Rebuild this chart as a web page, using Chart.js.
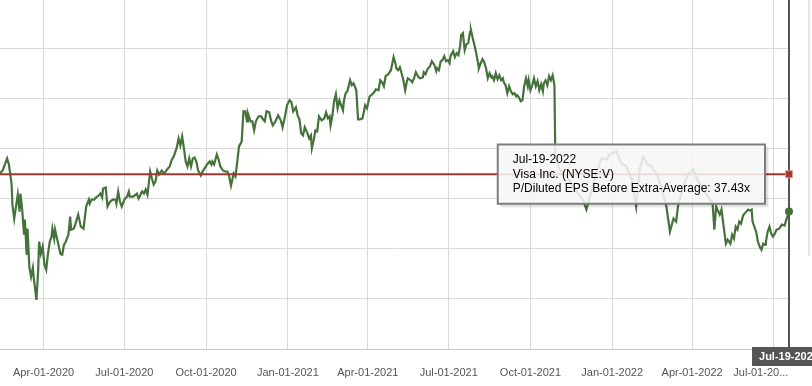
<!DOCTYPE html>
<html>
<head>
<meta charset="utf-8">
<script src="https://cdn.jsdelivr.net/npm/chart.js@4.4.0/dist/chart.umd.min.js"></script>
<style>
  html, body { margin: 0; padding: 0; background: #fff; }
  #peChart { display: block; }
</style>
</head>
<body>
<canvas id="peChart" width="812" height="386"></canvas>
<script>
// day number counted from 2020-01-01, one entry per sampled trading day
const tradeDays = [
  42,45,50,52,55,56,58,60,62,64, 65,67,69,70,72,73,75,77,79,80,
  83,85,86,88,90,92,94,96,98,100, 101,103,104,107,109,110,112,114,116,119,
  121,122,125,127,130,133,136,139,142,143, 145,148,150,153,155,157,158,161,163,166,
  169,172,173,175,177,179,182,185,187,188, 192,196,198,202,204,206,208,211,213,215,
  217,219,221,224,227,230,233,235,238,241, 243,245,247,249,251,253,255,257,259,261,
  263,265,268,270,273,275,278,280,281,283, 286,288,290,293,295,298,300,302,305,307,
  308,311,314,316,318,320,321,324,326,328, 330,333,336,338,340,342,345,347,349,352,
  355,358,360,363,365,368,370,372,375,377, 379,381,383,385,388,390,392,393,395,397,
  399,401,404,407,409,411,413,414,416,418, 420,422,424,426,428,429,431,433,436,438,
  440,443,445,447,450,453,455,458,461,463, 465,468,470,472,474,476,479,482,485,487,
  488,490,492,494,496,498,500,501,504,506, 508,510,513,515,518,519,521,523,526,528,
  531,533,534,536,538,540,542,544,546,548, 549,552,554,556,558,560,561,563,565,567,
  569,571,572,574,576,578,580,581,583,585, 587,589,591,593,595,596,598,600,602,604,
  606,608,609,611,613,615,617,619,621,623, 624,626,628,630,632,634,636,637,639,641,
  643,645,647,649,651,653,654,656,658,660, 662,664,666,667,672,680,687,693,698,702,
  706,713,719,725,728,736,741,747,753,758, 762,766,770,775,781,786,792,796,800,803,
  805,811,816,822,828,833,839,844,846,848, 852,854,856,859,861,864,866,868,870,872,
  874,876,878,879,882,884,886,888,889,891, 893,895,897,899,901,903,904,906,908,910,
  912,914,916,919,922,925,927,930
];

const peRatio = [
  37.5,37.8,39.0,38.4,36.5,34.4,33.0,34.2,35.4,33.7, 35.5,33.9,31.4,32.9,29.4,32.0,28.2,27.2,28.1,27.1,
  24.9,27.9,30.7,29.5,30.2,28.4,27.9,29.5,30.7,31.2, 32.0,31.0,31.9,30.7,29.9,29.5,29.4,30.4,30.7,31.4,
  33.2,31.9,32.0,32.5,33.4,32.2,32.0,34.2,34.9,34.5, 34.9,34.9,35.1,35.3,35.5,35.1,36.0,36.1,34.2,34.7,
  34.9,34.9,34.5,35.7,34.7,34.2,34.9,35.2,35.7,35.2, 35.2,35.5,35.0,35.7,35.5,35.9,35.4,37.7,37.0,36.4,
  36.7,37.8,37.4,37.8,37.5,37.9,38.2,38.8,39.3,40.1, 41.0,40.3,41.2,40.0,38.7,38.2,39.0,38.2,39.0,39.1,
  38.7,37.8,37.3,37.7,38.1,38.4,38.7,38.4,38.7,38.4, 39.4,38.9,38.2,37.8,37.7,37.7,37.2,36.3,37.5,37.2,
  37.9,40.2,40.7,43.7,43.7,42.7,43.5,42.7,42.7,41.8, 42.7,43.2,43.2,42.9,42.7,43.7,43.6,42.8,42.3,42.7,
  43.3,42.8,42.1,43.3,44.3,44.8,44.6,43.7,44.1,43.3, 42.9,41.5,41.3,42.1,41.5,41.0,41.3,40.0,40.8,41.8,
  41.7,43.2,42.8,43.0,43.6,43.0,43.2,42.3,43.2,44.7, 45.4,44.0,44.8,44.3,43.8,44.7,45.5,45.7,46.8,46.3,
  46.5,45.8,42.9,42.9,43.0,44.3,44.0,45.2,45.4,45.6, 45.9,45.8,46.8,46.6,46.2,47.2,47.4,47.8,49.1,48.5,
  48.0,47.8,48.1,47.5,46.8,45.8,46.7,47.0,46.8,46.6, 47.0,47.6,47.1,47.0,47.1,47.6,47.4,47.9,48.2,48.7,
  48.3,47.7,48.0,47.8,48.7,48.8,49.2,48.7,48.8,48.5, 49.2,49.7,49.1,49.5,49.3,50.3,51.3,51.5,49.8,50.4,
  50.5,51.6,51.8,51.0,50.3,49.5,48.5,48.0,48.5,48.9, 48.6,48.0,47.0,47.5,47.1,47.2,46.8,47.5,46.9,47.3,
  46.8,47.0,46.6,46.3,45.5,46.2,45.7,45.4,45.5,45.2, 45.3,45.1,44.7,44.8,46.2,47.0,46.2,46.8,45.8,46.3,
  47.0,46.2,46.7,45.8,46.4,45.7,46.5,46.8,46.3,47.2, 46.8,47.3,46.3,39.2,37.9,37.2,36.2,35.5,34.9,33.9,
  35.2,37.5,39.0,38.9,39.4,39.7,38.5,38.2,36.9,34.2, 37.9,39.2,38.5,38.2,37.5,36.2,34.2,31.7,33.0,32.7,
  34.2,36.2,37.4,37.9,36.7,35.9,35.2,34.5,31.9,34.2, 33.4,33.9,32.5,30.5,30.9,30.5,31.4,31.0,32.2,31.9,
  32.7,32.5,33.2,33.4,33.7,33.9,33.8,33.9,32.7,32.2, 31.7,30.7,30.2,29.9,30.5,30.4,30.7,31.7,32.2,31.5,
  31.2,31.5,31.9,32.0,32.4,32.3,32.9,33.7
];

const avgPE = 37.43;
const tickDays = [91, 182, 274, 366, 456, 547, 639, 731, 821, 912];
const tickLabels = ['Apr-01-2020','Jul-01-2020','Oct-01-2020','Jan-01-2021','Apr-01-2021',
                    'Jul-01-2021','Oct-01-2021','Jan-01-2022','Apr-01-2022','Jul-01-20...'];
const gridValues = [25, 30, 35, 40, 45, 50];
const lastDateLabel = 'Jul-19-2022';
const companyName = 'Visa Inc. (NYSE:V)';
const metricName = 'P/Diluted EPS Before Extra-Average';

const GREEN = '#45723a';
const RED = '#a3372f';
const GRID = '#dadada';
const FONT = 'Arial, "Liberation Sans", sans-serif';

Chart.defaults.font.family = FONT;

const firstDay = tradeDays[0];
const lastDay = tradeDays[tradeDays.length - 1];
const lastIdx = tradeDays.length - 1;

const pePoints = tradeDays.map((d, i) => ({ x: d, y: peRatio[i] }));
const avgPoints = [{ x: firstDay, y: avgPE }, { x: lastDay, y: avgPE }];

// tooltip sits on the left of the hovered point
Chart.Tooltip.positioners.atPoint = function (items) {
  if (!items.length) return false;
  return { x: items[0].element.x, y: items[0].element.y };
};

// vertical hover line + date flag on the axis
const crosshair = {
  id: 'crosshair',
  beforeDatasetsDraw(chart) {
    const { ctx, chartArea } = chart;
    const px = chart.scales.x.getPixelForValue(lastDay);
    ctx.save();
    ctx.strokeStyle = '#555';
    ctx.lineWidth = 2;
    ctx.beginPath();
    ctx.moveTo(px, 0);
    ctx.lineTo(px, chartArea.bottom);
    ctx.stroke();

    ctx.font = 'bold 11px ' + FONT;
    const w = ctx.measureText(lastDateLabel).width + 14;
    ctx.fillStyle = '#555';
    ctx.fillRect(px - w / 2, chartArea.bottom - 2, w, 19);
    ctx.fillStyle = '#fff';
    ctx.textAlign = 'center';
    ctx.textBaseline = 'middle';
    ctx.fillText(lastDateLabel, px, chartArea.bottom + 8);

    // faint scroll track at the far right
    ctx.strokeStyle = '#e4e4e4';
    ctx.lineWidth = 2;
    ctx.beginPath();
    ctx.moveTo(809, 0);
    ctx.lineTo(809, 256);
    ctx.stroke();
    ctx.restore();
  },
  // soft drop shadow under the tooltip box
  beforeTooltipDraw(chart, args) {
    const t = args.tooltip;
    if (!t.opacity) return;
    const { ctx } = chart;
    ctx.save();
    ctx.fillStyle = 'rgba(0,0,0,0.07)';
    ctx.fillRect(t.x + 2, t.y + 2, t.width + 1, t.height + 1);
    ctx.fillStyle = 'rgba(0,0,0,0.05)';
    ctx.fillRect(t.x + 3, t.y + 3, t.width + 1, t.height + 1);
    ctx.restore();
  }
};

const chart = new Chart(document.getElementById('peChart'), {
  type: 'line',
  data: {
    datasets: [
      {
        label: metricName,
        data: avgPoints,
        borderColor: RED,
        borderWidth: 2,
        pointStyle: 'rect',
        pointRadius: [0, 5],
        pointBackgroundColor: RED,
        pointBorderColor: 'rgba(225,160,160,0.9)',
        pointBorderWidth: 1,
        clip: false
      },
      {
        label: companyName,
        data: pePoints,
        borderColor: GREEN,
        borderWidth: 2.2,
        tension: 0,
        pointRadius: ctx => (ctx.dataIndex === lastIdx ? 4 : 0),
        pointBackgroundColor: GREEN,
        pointBorderWidth: 0,
        clip: false
      }
    ]
  },
  options: {
    responsive: false,
    animation: false,
    layout: { autoPadding: false, padding: { top: 0, right: 23, bottom: 6, left: 0 } },
    plugins: {
      legend: { display: false },
      tooltip: {
        position: 'atPoint',
        xAlign: 'right',
        yAlign: 'center',
        caretSize: 0,
        caretPadding: 24,
        backgroundColor: 'rgba(250,250,250,0.86)',
        borderColor: '#7d7d7d',
        borderWidth: 2,
        cornerRadius: 0,
        titleColor: '#000',
        bodyColor: '#000',
        titleFont: { family: FONT, size: 12, weight: 'normal' },
        bodyFont: { family: FONT, size: 12 },
        titleMarginBottom: 0,
        titleSpacing: 0,
        bodySpacing: 0,
        padding: { left: 15, right: 15, top: 8, bottom: 8 },
        displayColors: false,
        callbacks: {
          title: () => lastDateLabel,
          label: item => [companyName, metricName + ': ' + item.parsed.y.toFixed(2) + 'x']
        }
      }
    },
    scales: {
      x: {
        type: 'linear',
        min: firstDay,
        max: lastDay,
        afterBuildTicks: s => { s.ticks = tickDays.map(v => ({ value: v })); },
        afterFit: s => { s.paddingLeft = 0; s.paddingRight = 0; s.height = 31; },
        ticks: {
          autoSkip: false,
          maxRotation: 0,
          padding: 17,
          color: '#555',
          font: { size: 11 },
          // last label is squeezed to the left edge of the plot end
          callback: (v, i) => (i === tickLabels.length - 1 ? tickLabels[i] + '        ' : tickLabels[i])
        },
        grid: { color: GRID, drawTicks: false },
        border: { color: '#c9c9c9' }
      },
      y: {
        min: 20,
        max: 54.8,
        afterBuildTicks: s => { s.ticks = gridValues.map(v => ({ value: v })); },
        afterFit: s => { s.paddingTop = 0; s.paddingBottom = 0; },
        ticks: { display: false },
        grid: { color: GRID, drawTicks: false },
        border: { display: false }
      }
    }
  },
  plugins: [crosshair]
});

chart.tooltip.setActiveElements([{ datasetIndex: 0, index: 1 }], { x: 0, y: 0 });
chart.update();
</script>
</body>
</html>
